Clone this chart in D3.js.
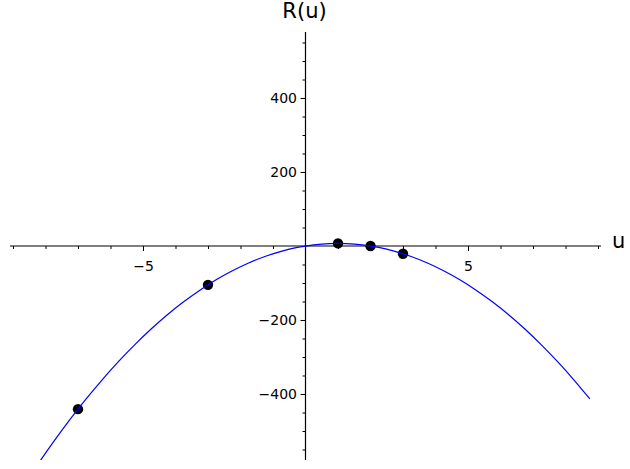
<!DOCTYPE html>
<html>
<head>
<meta charset="utf-8">
<script src="https://cdn.jsdelivr.net/npm/d3@7"></script>
<style>
  html, body { margin: 0; padding: 0; background: #fff; }
  svg { display: block; font-family: "DejaVu Sans", sans-serif; }
</style>
</head>
<body>
<script>
// ---- data ----
const curveU = [-8.75,-8.25,-7.75,-7.25,-6.75,-6.25,-5.75,-5.25,-4.75,-4.25,-3.75,-3.25,-2.75,-2.25,-1.75,-1.25,-0.75,-0.25,
                0.25,0.75,1.25,1.75,2.25,2.75,3.25,3.75,4.25,4.75,5.25,5.75,6.25,6.75,7.25,7.75,8.25,8.75];
const curveR = [-658.4,-591.9,-528.9,-469.4,-413.4,-360.9,-311.9,-266.4,-224.4,-185.9,-150.9,-119.4,-91.4,-66.9,-45.9,-28.4,-14.4,-3.9,
                3.1,6.6,6.6,3.1,-3.9,-14.4,-28.4,-45.9,-66.9,-91.4,-119.4,-150.9,-185.9,-224.4,-266.4,-311.9,-360.9,-413.4];
const pointU = [-7, -3, 1, 2, 3];
const pointR = [-441, -105, 7, 0, -21];
const xMajor = [-5, 5];
const xMinor = [-9,-8,-7,-6,-4,-3,-2,-1,1,2,3,4,6,7,8,9];
const yMajor = [-400, -200, 200, 400];
const yMinor = [-550,-500,-450,-350,-300,-250,-150,-100,-50,50,100,150,250,300,350,450,500,550];
const xLabel = "u";
const yLabel = "R(u)";

const W = 630, H = 469;
const x = d3.scaleLinear().domain([-9.0923, 9.0923]).range([10, 601]);
const y = d3.scaleLinear().domain([-578.4, 578.4]).range([460, 32]);

const svg = d3.select("body").append("svg").attr("width", W).attr("height", H);

svg.append("defs").append("clipPath").attr("id", "clip")
  .append("rect").attr("x", 10).attr("y", 32).attr("width", 591).attr("height", 428);

// x axis
const gx = svg.append("g").attr("transform", `translate(0,${y(0)})`);
gx.append("g").call(d3.axisBottom(x).tickValues(xMinor).tickSize(3).tickFormat(""))
  .call(g => g.select(".domain").remove());
gx.append("g").call(d3.axisBottom(x).tickValues(xMajor).tickSize(5).tickPadding(10))
  .call(g => g.select(".domain").remove());
gx.append("line").attr("x1", x.range()[0]).attr("x2", x.range()[1]).attr("stroke", "#000").attr("stroke-width", 1.2);

// y axis
const gy = svg.append("g").attr("transform", `translate(${x(0)},0)`);
gy.append("g").call(d3.axisLeft(y).tickValues(yMinor).tickSize(3).tickFormat(""))
  .call(g => g.select(".domain").remove());
gy.append("g").call(d3.axisLeft(y).tickValues(yMajor).tickSize(5).tickPadding(3.5))
  .call(g => g.select(".domain").remove());
gy.append("line").attr("y1", y.range()[0]).attr("y2", y.range()[1]).attr("stroke", "#000").attr("stroke-width", 1.2);

svg.selectAll(".tick text").attr("font-size", 14).attr("font-family", "DejaVu Sans").attr("fill", "#000");
svg.selectAll(".tick line").attr("stroke", "#000").attr("stroke-width", 1);

// points
svg.append("g").selectAll("circle").data(pointU).join("circle")
  .attr("cx", (d) => x(d)).attr("cy", (d, i) => y(pointR[i])).attr("r", 5.2).attr("fill", "#000");

// curve
const line = d3.line().x(d => x(d[0])).y(d => y(d[1])).curve(d3.curveNatural);
svg.append("path").attr("clip-path", "url(#clip)")
  .datum(curveU.map((u, i) => [u, curveR[i]]))
  .attr("d", line).attr("fill", "none").attr("stroke", "#0000ff").attr("stroke-width", 1.2);

// axis labels
svg.append("text").attr("x", x(0) - 1).attr("y", 18).attr("text-anchor", "middle")
  .attr("font-size", 21).text(yLabel);
svg.append("text").attr("x", 612).attr("y", 248).attr("font-size", 21).text(xLabel);
</script>
</body>
</html>
